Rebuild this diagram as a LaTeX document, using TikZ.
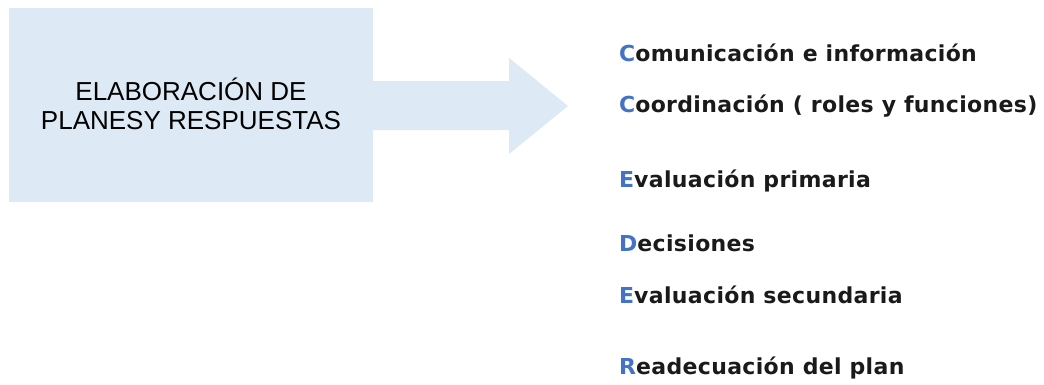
\documentclass[tikz,border=0pt]{standalone}
\usepackage{fontspec}
\usepackage{tikz}
\setmainfont{Liberation Sans}
\newfontfamily\stepfont{DejaVu Sans}[LetterSpace=1.5]

\definecolor{planblue}{RGB}{221,233,245}
\definecolor{letterblue}{RGB}{68,114,196}
\definecolor{stepgray}{RGB}{26,26,26}

\newcommand{\firstletter}[1]{\textcolor{letterblue}{#1}}

\tikzset{
	planbox/.style={fill=planblue, minimum width=364pt, minimum height=194pt, inner sep=0pt},
	plantext/.style={align=center, inner sep=0pt, font=\fontsize{26}{29}\selectfont},
	stepline/.style={anchor=base west, inner sep=0pt, text=stepgray, font=\stepfont\bfseries\fontsize{22}{26}\selectfont}
}

\begin{document}
\begin{tikzpicture}[x=1pt, y=-1pt]
	
	\useasboundingbox (0,0) rectangle (1044,384);
	
	\node[planbox] (plan) at (191, 105) {};
	\node[plantext] (title) at (191, 104) {ELABORACIÓN DE\\PLANESY RESPUESTAS};
	
	\fill[planblue] (plan.east) ++(0,-24) -- ++(136,0) -- ++(0,-23) -- (568, 106)
		-- (509, 154) -- (509, 130) -- (plan.east |- 0,130) -- cycle;
	
	\node[stepline] (com)  at (619, 61)  {\firstletter{C}omunicación e información};
	\node[stepline] (coor) at (619, 112) {\firstletter{C}oordinación ( roles y funciones)};
	\node[stepline] (evp)  at (619, 187) {\firstletter{E}valuación primaria};
	\node[stepline] (dec)  at (619, 251) {\firstletter{D}ecisiones};
	\node[stepline] (evs)  at (619, 303) {\firstletter{E}valuación secundaria};
	\node[stepline] (read) at (619, 374) {\firstletter{R}eadecuación del plan};
	
\end{tikzpicture}
\end{document}
